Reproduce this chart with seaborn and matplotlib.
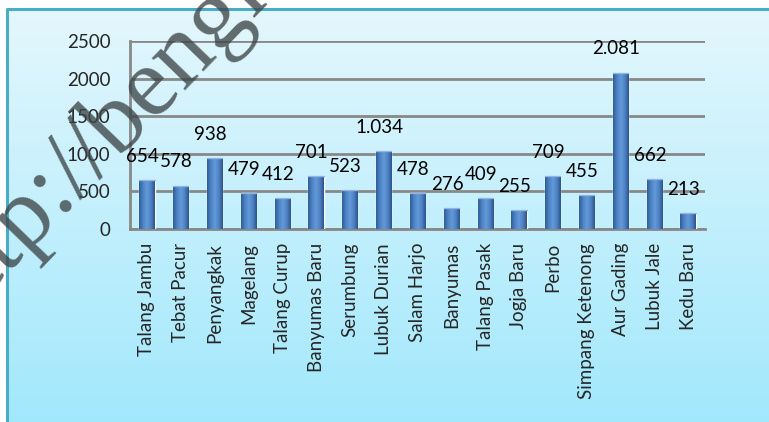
import numpy as np
import pandas as pd
import seaborn as sns
import matplotlib.pyplot as plt
from matplotlib.colors import LinearSegmentedColormap

categories = ["Talang Jambu", "Tebat Pacur", "Penyangkak", "Magelang", "Talang Curup",
              "Banyumas Baru", "Serumbung", "Lubuk Durian", "Salam Harjo", "Banyumas",
              "Talang Pasak", "Jogja Baru", "Perbo", "Simpang Ketenong", "Aur Gading",
              "Lubuk Jale", "Kedu Baru"]
values = [654, 578, 938, 479, 412, 701, 523, 1034, 478, 276, 409, 255, 709, 455, 2081, 662, 213]
y_ticks = [0, 500, 1000, 1500, 2000, 2500]

df = pd.DataFrame({"desa": categories, "jumlah": values})

sns.set_theme(style="white")
plt.rcParams['font.family'] = ['Lato', 'DejaVu Sans']

fig = plt.figure(figsize=(7.69, 4.22), dpi=100)

# background panel with vertical gradient and teal border
bg = fig.add_axes([0, 0, 1, 1], zorder=0)
bg_cmap = LinearSegmentedColormap.from_list("bg", ["#e4f7fd", "#a2e8fc"])
grad = np.linspace(0, 1, 256).reshape(-1, 1)
bg.imshow(grad, cmap=bg_cmap, aspect="auto", extent=[7, 769, 422, 9])
bg.plot([7, 7, 769], [422, 9, 9], color="#4bacc6", lw=2.2)
bg.set_xlim(0, 769)
bg.set_ylim(422, 0)
bg.axis("off")

ax = fig.add_axes([130 / 769, 1 - 229 / 422, 575 / 769, 188 / 422], zorder=1)
ax.patch.set_alpha(0)
sns.barplot(data=df, x="desa", y="jumlah", color="#4f81bd", width=0.45, ax=ax, zorder=3)

# cylinder-like shading on each bar
bar_cmap = LinearSegmentedColormap.from_list(
    "bar", ["#2e5d98", "#4d83c4", "#6499d9", "#4d83c4", "#2c548b"])
shade = np.linspace(0, 1, 64).reshape(1, -1)
for p in ax.patches:
    x0, w, h = p.get_x(), p.get_width(), p.get_height()
    im = ax.imshow(shade, cmap=bar_cmap, aspect="auto",
                   extent=[x0, x0 + w, 0, h], zorder=4)
    im.set_clip_path(p)
    ax.plot([x0, x0 + w], [h, h], color="#8fb4e3", lw=1, zorder=5)

for i, v in enumerate(values):
    lbl = f"{v:,}".replace(",", ".")
    ax.annotate(lbl, (i, v), xytext=(-3, 17), textcoords="offset points",
                ha="center", va="center", fontsize=13.5, color="black", zorder=6)

ax.set_xlim(-0.5, len(categories) - 0.5)
ax.set_ylim(0, 2500)
ax.set_yticks(y_ticks)
ax.set_yticklabels([str(t) for t in y_ticks], fontsize=13.5)
ax.yaxis.grid(True, color="#888888", lw=2, zorder=1)
ax.set_axisbelow(True)

ax.set_xticks(range(len(categories)))
ax.set_xticklabels(categories, rotation=90, fontsize=13.5)
ax.tick_params(axis="x", length=0, pad=10)
ax.tick_params(axis="y", length=5, width=1.5, color="#888888", direction="out", pad=9)
# tick marks between categories
ax.set_xticks(np.arange(-0.5, len(categories), 1), minor=True)
ax.tick_params(axis="x", which="minor", length=5, width=1.5, color="#888888", direction="out")
ax.set_xlabel("")
ax.set_ylabel("")

for side in ["top", "right"]:
    ax.spines[side].set_visible(False)
for side in ["left", "bottom"]:
    ax.spines[side].set_color("#888888")
    ax.spines[side].set_linewidth(2)

# watermark, clipped by the picture edges as in the original
fig.text(-0.062, 0.216, "http://bengkulu", fontsize=72, family="Liberation Serif",
         color="#3c4446", alpha=0.78, rotation=46, rotation_mode="anchor",
         ha="left", va="baseline", zorder=10)

fig.savefig("out.png", dpi=100)
